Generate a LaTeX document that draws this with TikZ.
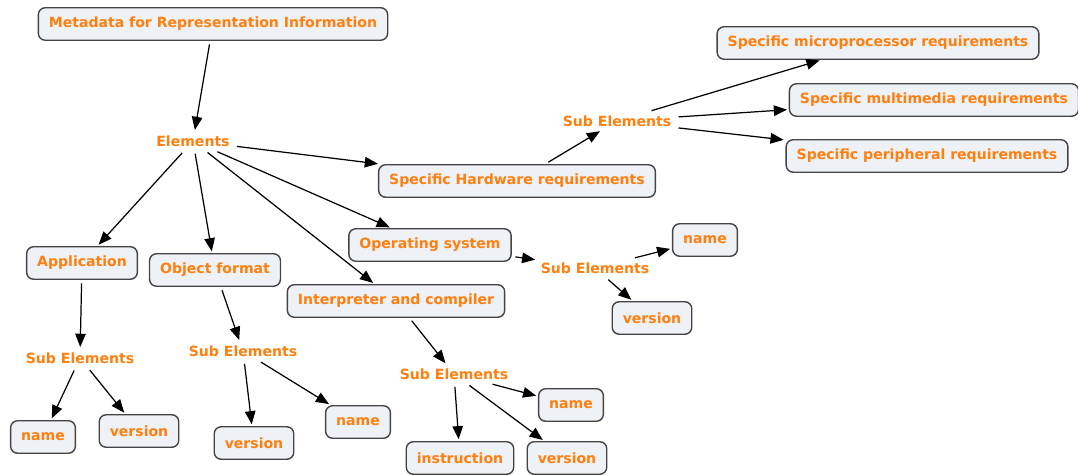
\documentclass[tikz,border=0pt]{standalone}
\usepackage{fontspec}
\setmainfont{DejaVu Sans}
\usepackage{tikz}
\usetikzlibrary{arrows.meta,positioning}

\definecolor{lbl}{HTML}{FF7F0E}
\definecolor{boxfill}{HTML}{EEF1F5}
\definecolor{boxline}{HTML}{444444}

\tikzset{
  concept/.style={draw=boxline, fill=boxfill, rounded corners=4pt, line width=0.8pt,
    inner xsep=6pt, minimum height=18.5pt, font=\fontsize{8}{9}\selectfont\bfseries, text=lbl},
  link/.style={font=\fontsize{8}{9}\selectfont\bfseries, text=lbl, inner sep=2pt},
  tip/.style={-{Triangle[length=7.5pt,width=6pt]}, line width=0.7pt, shorten >=1pt, shorten <=2pt}
}

\begin{document}
\begin{tikzpicture}[x=0.02cm, y=-0.02cm]
          \useasboundingbox (0,0) rectangle (1078,475);
          \node[concept] (meta) at (213,24) {Metadata for Representation Information};
          \node[link] (elem) at (193,141) {Elements};
          \node[concept] (hw) at (517,181) {Specific Hardware requirements};
          \node[link] (hwsub) at (617,121) {Sub Elements};
          \node[concept] (micro) at (878,43) {Specific microprocessor requirements};
          \node[concept] (multi) at (934,100) {Specific multimedia requirements};
          \node[concept] (peri) at (927,156) {Specific peripheral requirements};
          \node[concept] (os) at (430,245) {Operating system};
          \node[link] (ossub) at (595,268) {Sub Elements};
          \node[concept] (osname) at (705,240) {name};
          \node[concept] (osver) at (652,318) {version};
          \node[concept] (app) at (82,263) {Application};
          \node[link] (appsub) at (80,358) {Sub Elements};
          \node[concept] (appname) at (43,437) {name};
          \node[concept] (appver) at (139,431) {version};
          \node[concept] (obj) at (215,270) {Object format};
          \node[link] (objsub) at (243,351) {Sub Elements};
          \node[concept] (objver) at (254,443) {version};
          \node[concept] (objname) at (358,422) {name};
          \node[concept] (ic) at (396,301) {Interpreter and compiler};
          \node[link] (icsub) at (454,374) {Sub Elements};
          \node[concept] (icname) at (571,405) {name};
          \node[concept] (icins) at (460,458) {instruction};
          \node[concept] (icver) at (567,458) {version};
          \path[tip] (meta) edge (elem)
                    (elem) edge (hw)
                    (elem) edge (app)
                    (elem) edge (obj)
                    (elem) edge (os)
                    (elem) edge (ic)
                    (hw) edge (hwsub)
                    (hwsub) edge (micro)
                    (hwsub) edge (multi)
                    (hwsub) edge (peri)
                    (os) edge (ossub)
                    (ossub) edge (osname)
                    (ossub) edge (osver)
                    (app) edge (appsub)
                    (appsub) edge (appname)
                    (appsub) edge (appver)
                    (obj) edge (objsub)
                    (objsub) edge (objver)
                    (objsub) edge (objname)
                    (ic) edge (icsub)
                    (icsub) edge (icname)
                    (icsub) edge (icins)
                    (icsub) edge (icver);
        \end{tikzpicture}
\end{document}
